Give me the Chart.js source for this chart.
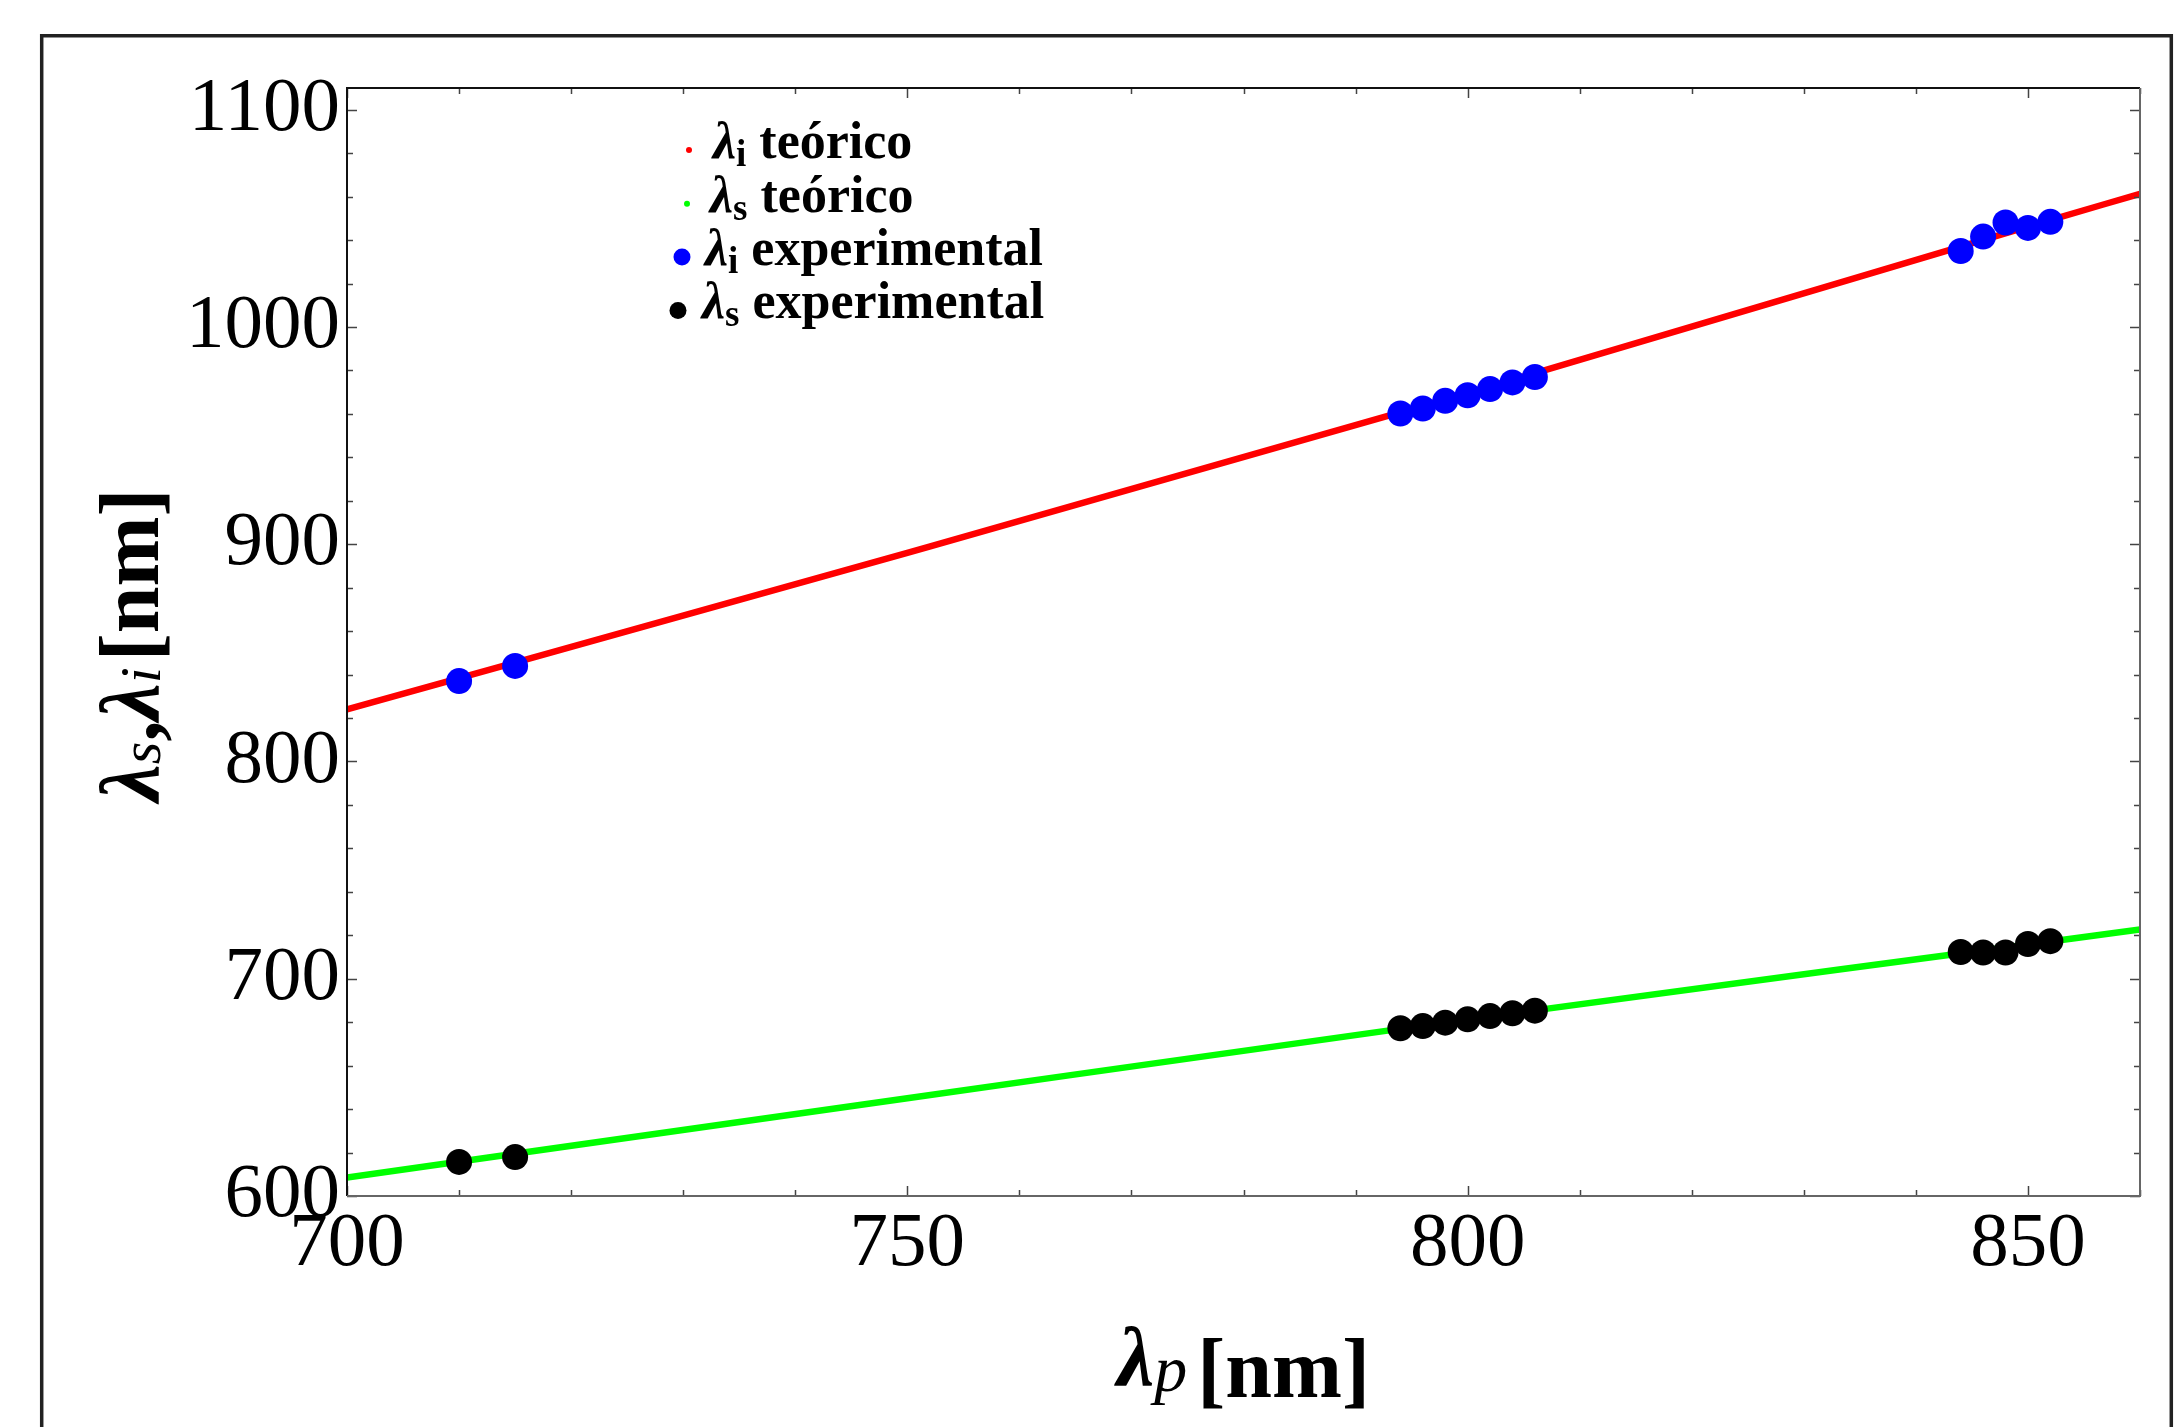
<!DOCTYPE html>
<html>
<head>
<meta charset="utf-8">
<script src="https://cdn.jsdelivr.net/npm/chart.js@4.4.1/dist/chart.umd.min.js"></script>
<style>
  html, body { margin: 0; padding: 0; background: #fff; }
  canvas { display: block; }
</style>
</head>
<body>
<canvas id="myChart" width="2184" height="1427"></canvas>
<script>
// pump wavelength (x) for the theoretical curves
let pumpTheory = [700, 750, 800, 850, 860];
let idlerTheory = [824, 896, 969.5, 1046.2, 1061.3];
let signalTheory = [608.5, 645, 681.3, 715.8, 722.7];

// measured points
let pumpExp = [710, 715, 794, 796, 798, 800, 802, 804, 806, 844, 846, 848, 850, 852];
let idlerExp = [837, 844, 960.2, 962.5, 966, 968.6, 971.4, 974.5, 977, 1035, 1041.6, 1048.1, 1045.6, 1048.4];
let signalExp = [615.7, 617.9, 677.2, 678.2, 679.8, 681.3, 682.8, 684.1, 685.3, 712.3, 712.1, 712.1, 716, 717.3];

let xMajor = 50;
let yMajor = 100;

let legendNames = [
    { sub: 'i', rest: ' teórico' },
    { sub: 's', rest: ' teórico' },
    { sub: 'i', rest: ' experimental' },
    { sub: 's', rest: ' experimental' }
];

let serif = '"Liberation Serif", "Times New Roman", serif';

let toPoints = (xs, ys) => xs.map((x, i) => ({ x: x, y: ys[i] }));

let drawParts = (ctx, parts, x, y) => {
    parts.forEach(p => {
        ctx.font = p.font;
        ctx.fillText(p.text, x, y + (p.dy || 0));
        x += ctx.measureText(p.text).width + (p.gap || 0);
    });
    return x;
}

let partsWidth = (ctx, parts) => {
    let w = 0;
    parts.forEach(p => {
        ctx.font = p.font;
        w += ctx.measureText(p.text).width + (p.gap || 0);
    });
    return w;
}

let decorations = {
    id: 'decorations',
    beforeDraw: (chart) => {
        let ctx = chart.ctx;
        ctx.save();
        ctx.fillStyle = '#fff';
        ctx.fillRect(0, 0, chart.width, chart.height);
        // outer frame
        ctx.strokeStyle = '#222';
        ctx.lineWidth = 3.5;
        ctx.beginPath();
        ctx.moveTo(41.7, 1500);
        ctx.lineTo(41.7, 35.8);
        ctx.lineTo(2171.3, 35.8);
        ctx.lineTo(2171.3, 1500);
        ctx.stroke();
        ctx.restore();
    },
    afterDraw: (chart) => {
        let ctx = chart.ctx;
        let a = chart.chartArea;
        let xs = chart.scales.x;
        let ys = chart.scales.y;
        ctx.save();

        // ticks inside the frame on all four sides
        ctx.strokeStyle = '#444';
        ctx.lineWidth = 1.5;
        ctx.beginPath();
        xs.ticks.forEach(t => {
            let px = Math.round(xs.getPixelForValue(t.value)) + 0.5;
            let len = t.value % xMajor === 0 ? 10 : 6;
            ctx.moveTo(px, a.bottom); ctx.lineTo(px, a.bottom - len);
            ctx.moveTo(px, a.top); ctx.lineTo(px, a.top + len);
        });
        ys.ticks.forEach(t => {
            let py = Math.round(ys.getPixelForValue(t.value)) + 0.5;
            let len = t.value % yMajor === 0 ? 10 : 6;
            ctx.moveTo(a.left, py); ctx.lineTo(a.left + len, py);
            ctx.moveTo(a.right, py); ctx.lineTo(a.right - len, py);
        });
        ctx.stroke();

        // plot frame
        ctx.lineWidth = 2;
        ctx.strokeStyle = '#111';
        ctx.beginPath();
        ctx.moveTo(a.left, a.bottom); ctx.lineTo(a.left, a.top); ctx.lineTo(a.right, a.top);
        ctx.stroke();
        ctx.strokeStyle = '#666';
        ctx.beginPath();
        ctx.moveTo(a.right, a.top); ctx.lineTo(a.right, a.bottom); ctx.lineTo(a.left, a.bottom);
        ctx.stroke();

        ctx.fillStyle = '#000';
        ctx.textBaseline = 'alphabetic';
        ctx.textAlign = 'left';

        // x title
        let xParts = [
            { text: 'λ', font: `italic bold 84px ${serif}`, dy: -12 },
            { text: 'p', font: `italic 66px ${serif}`, dy: -6, gap: 10 },
            { text: '[nm]', font: `bold 84px ${serif}` }
        ];
        let cx = (a.left + a.right) / 2;
        drawParts(ctx, xParts, cx - partsWidth(ctx, xParts) / 2, 1397);

        // y title, rotated
        let yParts = [
            { text: 'λ', font: `italic bold 84px ${serif}` },
            { text: 's', font: `italic 58px ${serif}`, dy: 2 },
            { text: ',', font: `bold 84px ${serif}` },
            { text: 'λ', font: `italic bold 84px ${serif}` },
            { text: 'i', font: `italic 58px ${serif}`, dy: 2, gap: 6 },
            { text: '[nm]', font: `bold 84px ${serif}` }
        ];
        ctx.save();
        ctx.translate(158, 645);
        ctx.rotate(-Math.PI / 2);
        drawParts(ctx, yParts, -partsWidth(ctx, yParts) / 2, 0);
        ctx.restore();

        // legend
        let legendX = [713, 710, 705, 702];
        let legendY = [158, 211.7, 265, 318.4];
        let markX = [689, 687, 682, 678];
        let markR = [3, 3, 8.5, 8.5];
        chart.data.datasets.forEach((ds, i) => {
            ctx.fillStyle = ds.legendColor;
            ctx.beginPath();
            ctx.arc(markX[i], legendY[i] - 8, markR[i], 0, Math.PI * 2);
            ctx.fill();
            ctx.fillStyle = '#000';
            drawParts(ctx, [
                { text: 'λ', font: `italic bold 52px ${serif}` },
                { text: legendNames[i].sub, font: `bold 37px ${serif}`, dy: 8 },
                { text: legendNames[i].rest, font: `bold 52px ${serif}` }
            ], legendX[i], legendY[i]);
        });

        ctx.restore();
    }
}

let ctx = document.getElementById('myChart').getContext('2d');

let myChart = new Chart(ctx, {
    type: 'scatter',
    data: {
        datasets: [{
            label: 'λi teórico',
            data: toPoints(pumpTheory, idlerTheory),
            showLine: true,
            borderColor: 'rgb(255, 0, 0)',
            legendColor: 'rgb(255, 0, 0)',
            borderWidth: 6.5,
            pointRadius: 0,
            cubicInterpolationMode: 'monotone',
            order: 2
        }, {
            label: 'λs teórico',
            data: toPoints(pumpTheory, signalTheory),
            showLine: true,
            borderColor: 'rgb(0, 255, 0)',
            legendColor: 'rgb(0, 255, 0)',
            borderWidth: 6.5,
            pointRadius: 0,
            cubicInterpolationMode: 'monotone',
            order: 2
        }, {
            label: 'λi experimental',
            data: toPoints(pumpExp, idlerExp),
            backgroundColor: 'rgb(0, 0, 255)',
            legendColor: 'rgb(0, 0, 255)',
            borderWidth: 0,
            pointRadius: 13,
            order: 1
        }, {
            label: 'λs experimental',
            data: toPoints(pumpExp, signalExp),
            backgroundColor: 'rgb(0, 0, 0)',
            legendColor: 'rgb(0, 0, 0)',
            borderWidth: 0,
            pointRadius: 13,
            order: 1
        }]
    },
    options: {
        responsive: false,
        animation: false,
        events: [],
        layout: {
            padding: { left: 0, right: 44, top: 88, bottom: 0 }
        },
        plugins: {
            legend: { display: false },
            tooltip: { enabled: false }
        },
        scales: {
            x: {
                type: 'linear',
                min: 700,
                max: 860,
                grid: { display: false, drawTicks: false },
                border: { display: false },
                ticks: {
                    stepSize: 10,
                    includeBounds: false,
                    autoSkip: false,
                    maxRotation: 0,
                    padding: 3,
                    color: '#000',
                    font: { family: serif, size: 77 },
                    callback: (v) => v % xMajor === 0 ? String(v) : ''
                },
                afterFit: (s) => { s.height = 231; }
            },
            y: {
                type: 'linear',
                min: 600,
                max: 1110,
                grid: { display: false, drawTicks: false },
                border: { display: false },
                ticks: {
                    stepSize: 20,
                    includeBounds: false,
                    autoSkip: false,
                    padding: 7,
                    color: '#000',
                    font: { family: serif, size: 77 },
                    callback: (v) => v % yMajor === 0 ? String(v) : ''
                },
                afterFit: (s) => { s.width = 347; }
            }
        }
    },
    plugins: [decorations]
})
</script>
</body>
</html>
